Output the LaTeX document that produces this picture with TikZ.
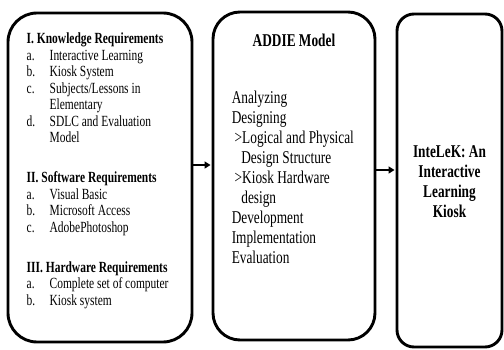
\documentclass[tikz,border=0pt]{standalone}
\usepackage{fontspec}
\usepackage{graphicx}
\setmainfont{Liberation Serif}
\usetikzlibrary{arrows.meta,positioning}
\newcommand{\iksqueeze}[1]{\scalebox{0.74}[1]{#1}}
\tikzset{
  ikbox/.style={
    draw=black,
    line width=2.9pt,
    rounded corners=#1,
    inner sep=0pt
  },
  ikbox/.default=20pt,
  iktext/.style={inner sep=0pt},
  ikflow/.style={-{Triangle[length=6pt,width=7pt]}, line width=2.8pt, shorten >=1pt}
}

\begin{document}
\begin{tikzpicture}[x=1pt,y=1pt]
  \useasboundingbox (0,0) rectangle (504,349);
  \node[ikbox=29pt, minimum width=184pt, minimum height=329pt] (reqs) at (100,171.5) {};
  \node[ikbox=27pt, minimum width=162pt, minimum height=328pt] (addie) at (294,173) {};
  \node[ikbox=17pt, minimum width=105pt, minimum height=333pt] (kiosk) at (449.5,168.5) {};
  \node[iktext, below right=20.5pt and 20pt of reqs.north west] (reqlist) {\fontsize{15.5}{16.5}\selectfont
    \iksqueeze{\begin{tabular}{@{}p{31pt}@{}l@{}}
      \multicolumn{2}{@{}l@{}}{\textbf{I. Knowledge Requirements}}\\
      a. & Interactive Learning\\
      b. & Kiosk System\\
      c. & Subjects/Lessons in\\
         & Elementary\\
      d. & SDLC and Evaluation\\
         & Model\\[23.5pt]
      \multicolumn{2}{@{}l@{}}{\textbf{II. Software Requirements}}\\
      a. & Visual Basic\\
      b. & Microsoft Access\\
      c. & AdobePhotoshop\\[23.5pt]
      \multicolumn{2}{@{}l@{}}{\textbf{III. Hardware Requirements}}\\
      a. & Complete set of computer\\
      b. & Kiosk system
    \end{tabular}}};
  \node[iktext, below=21.5pt of addie.north] (addiehead) {\fontsize{18}{20}\selectfont
    \iksqueeze{\begin{tabular}{@{}c@{}}\textbf{ADDIE Model}\end{tabular}}};
  \node[iktext, below right=79pt and 20pt of addie.north west] (phases) {\fontsize{18}{20}\selectfont
    \iksqueeze{\begin{tabular}{@{}l@{}}
      Analyzing\\
      Designing\\
      \hspace*{4pt}>Logical and Physical\\
      \hspace*{13pt}Design Structure\\
      \hspace*{4pt}>Kiosk Hardware\\
      \hspace*{13pt}design\\
      Development\\
      Implementation\\
      Evaluation
    \end{tabular}}};
  \node[iktext, below=131pt of kiosk.north] (kiosktext) {\fontsize{18}{20}\selectfont\bfseries
    \iksqueeze{\begin{tabular}{@{}c@{}}InteLeK: An\\Interactive\\Learning\\Kiosk\end{tabular}}};
  \coordinate[yshift=12.5pt] (flowa) at (reqs.east);
  \coordinate[yshift=6pt] (flowb) at (addie.east);
  \draw[ikflow] (flowa) -- (flowa -| addie.west);
  \draw[ikflow] (flowb) -- (flowb -| kiosk.west);
\end{tikzpicture}
\end{document}
